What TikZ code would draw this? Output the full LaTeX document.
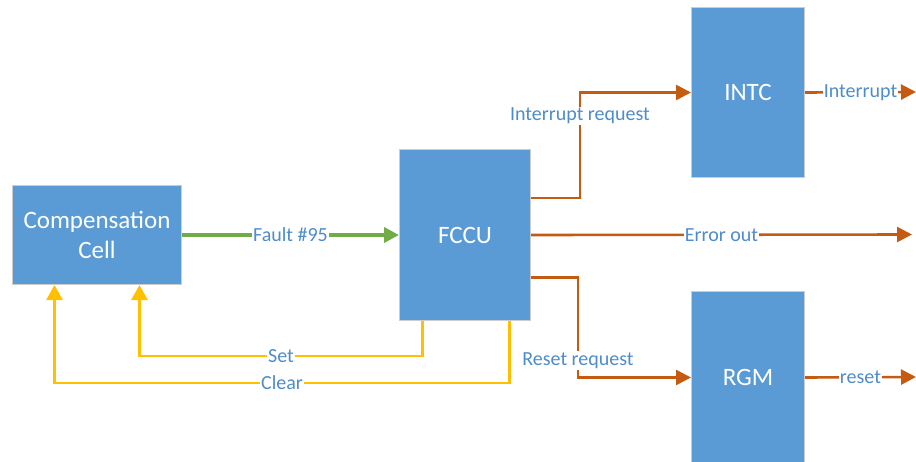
\documentclass[tikz,border=0pt]{standalone}
\usepackage{fontspec}
\setmainfont{Carlito}
\usepackage{xcolor}
\usetikzlibrary{arrows.meta,positioning}

\definecolor{boxblue}{HTML}{5B9BD5}
\definecolor{labelblue}{HTML}{4F8CCB}
\definecolor{faultgreen}{HTML}{70AD47}
\definecolor{sigorange}{HTML}{C55A11}
\definecolor{ctrlyellow}{HTML}{FFC000}

\begin{document}
\begin{tikzpicture}[x=1pt, y=-1pt,
    block/.style={draw=black!20, line width=1pt, fill=boxblue, text=white,
        font=\fontsize{25}{30}\selectfont, align=center, inner sep=0pt, anchor=north west},
    lbl/.style={fill=white, text=labelblue, font=\fontsize{20}{23}\selectfont, inner sep=1pt},
    fault/.style={faultgreen, line width=4pt, -{Triangle[length=15pt,width=15pt]}},
    sig/.style={sigorange, line width=2.6pt, -{Triangle[length=15pt,width=15pt]}},
    ctrl/.style={ctrlyellow, line width=2.6pt, -{Triangle[length=15pt,width=16pt]}}]
\useasboundingbox (0,0) rectangle (916,461);

% Draw the blocks
\node[block, minimum width=169pt, minimum height=99pt] (comp) at (12,185) {Compensation\\Cell};
\node[block, minimum width=131pt, minimum height=171pt] (fccu) at (399,149) {FCCU};
\node[block, minimum width=113pt, minimum height=170pt] (intc) at (691,7) {INTC};
\node[block, minimum width=113pt, minimum height=172pt] (rgm) at (691,291) {RGM};

% Bend points and free ends
\coordinate (irqsrc) at ([yshift=37pt]fccu.east);
\coordinate (rstsrc) at ([yshift=-42.5pt]fccu.east);
\coordinate (irqbend) at (580,0);
\coordinate (rstbend) at (578,0);
\coordinate (errend) at (912,234.5);
\coordinate (intend) at (916,92);
\coordinate (rstend) at (916,377);
\coordinate (setsrc) at ([xshift=-42.5pt]fccu.south);
\coordinate (clrsrc) at ([xshift=44.5pt]fccu.south);
\coordinate (setdst) at ([xshift=42.5pt]comp.south);
\coordinate (clrdst) at ([xshift=-42.5pt]comp.south);
\coordinate (setlvl) at (0,356);
\coordinate (clrlvl) at (0,383);

% Draw the fault line
\draw[fault] (comp.east) -- node[lbl] {Fault \#95} (fccu.west);

% Draw the FCCU outputs
\draw[sig] (irqsrc) -| node[lbl, pos=0.89] {Interrupt request} (irqbend |- intc.west) -- (intc.west);
\draw[sig] (fccu.east) -- node[lbl] {Error out} (errend);
\draw[sig] (rstsrc) -| node[lbl, pos=0.915] {Reset request} (rstbend |- rgm.west) -- (rgm.west);
\draw[sig] (intc.east) -- node[lbl] {Interrupt} (intend);
\draw[sig] (rgm.east) -- node[lbl] {reset} (rstend);

% Draw set and clear back to the cell
\draw[ctrl] (setsrc) -- (setsrc |- setlvl) -| node[lbl, pos=0.25] {Set} (setdst);
\draw[ctrl] (clrsrc) -- (clrsrc |- clrlvl) -| node[lbl, pos=0.25] {Clear} (clrdst);

\end{tikzpicture}
\end{document}
